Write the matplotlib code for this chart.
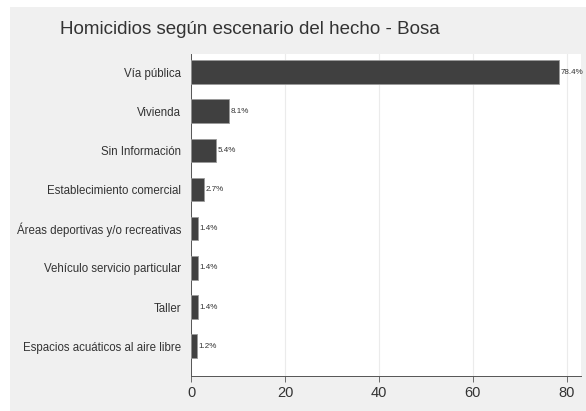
import matplotlib.pyplot as plt
from matplotlib.patches import Rectangle

plt.rcParams['font.family'] = ['Liberation Sans', 'DejaVu Sans']

categorias = ['Vía pública', 'Vivienda', 'Sin Información', 'Establecimiento comercial',
              'Áreas deportivas y/o recreativas', 'Vehículo servicio particular',
              'Taller', 'Espacios acuáticos al aire libre']
porcentajes = [78.4, 8.1, 5.4, 2.7, 1.4, 1.4, 1.4, 1.2]
xticks = [0, 20, 40, 60, 80]

fig = plt.figure(figsize=(5.86, 4.11), dpi=100, facecolor='white')
fig.patches.append(Rectangle((10 / 586, 0), 1, 1 - 7 / 411, transform=fig.transFigure,
                             facecolor='#f0f0f0', edgecolor='none', zorder=-10))

ax = fig.add_axes([191 / 586, 1 - 376 / 411, 390 / 586, 322 / 411])
ax.set_facecolor('white')

pos = list(range(len(categorias)))
bars = ax.barh(pos, porcentajes, height=0.6, color='#404040', edgecolor='#9a9a9a',
               linewidth=0.6, zorder=3)

for bar, v in zip(bars, porcentajes):
    ax.text(bar.get_width() + 0.3, bar.get_y() + bar.get_height() / 2, f'{v}%',
            va='center', ha='left', fontsize=5.8, color='#333333')

ax.set_yticks(pos)
ax.set_yticklabels(categorias, fontsize=8.3, color='#333333')
ax.set_ylim(7.76, -0.46)
ax.set_xlim(0, 83)
ax.set_xticks(xticks)
ax.tick_params(axis='x', labelsize=10.5, colors='#333333', length=4, width=0.6, color='#555555')
ax.tick_params(axis='y', length=0, pad=7)
ax.grid(axis='x', color='#ebebeb', linewidth=0.8, zorder=0)

for side in ['top', 'right']:
    ax.spines[side].set_visible(False)
for side in ['left', 'bottom']:
    ax.spines[side].set_color('#555555')
    ax.spines[side].set_linewidth(0.7)

fig.text(250 / 586, 1 - 30 / 411, 'Homicidios según escenario del hecho - Bosa',
         ha='center', va='center', fontsize=13.5, color='#333333')

fig.savefig('out.png', dpi=100, facecolor=fig.get_facecolor())
